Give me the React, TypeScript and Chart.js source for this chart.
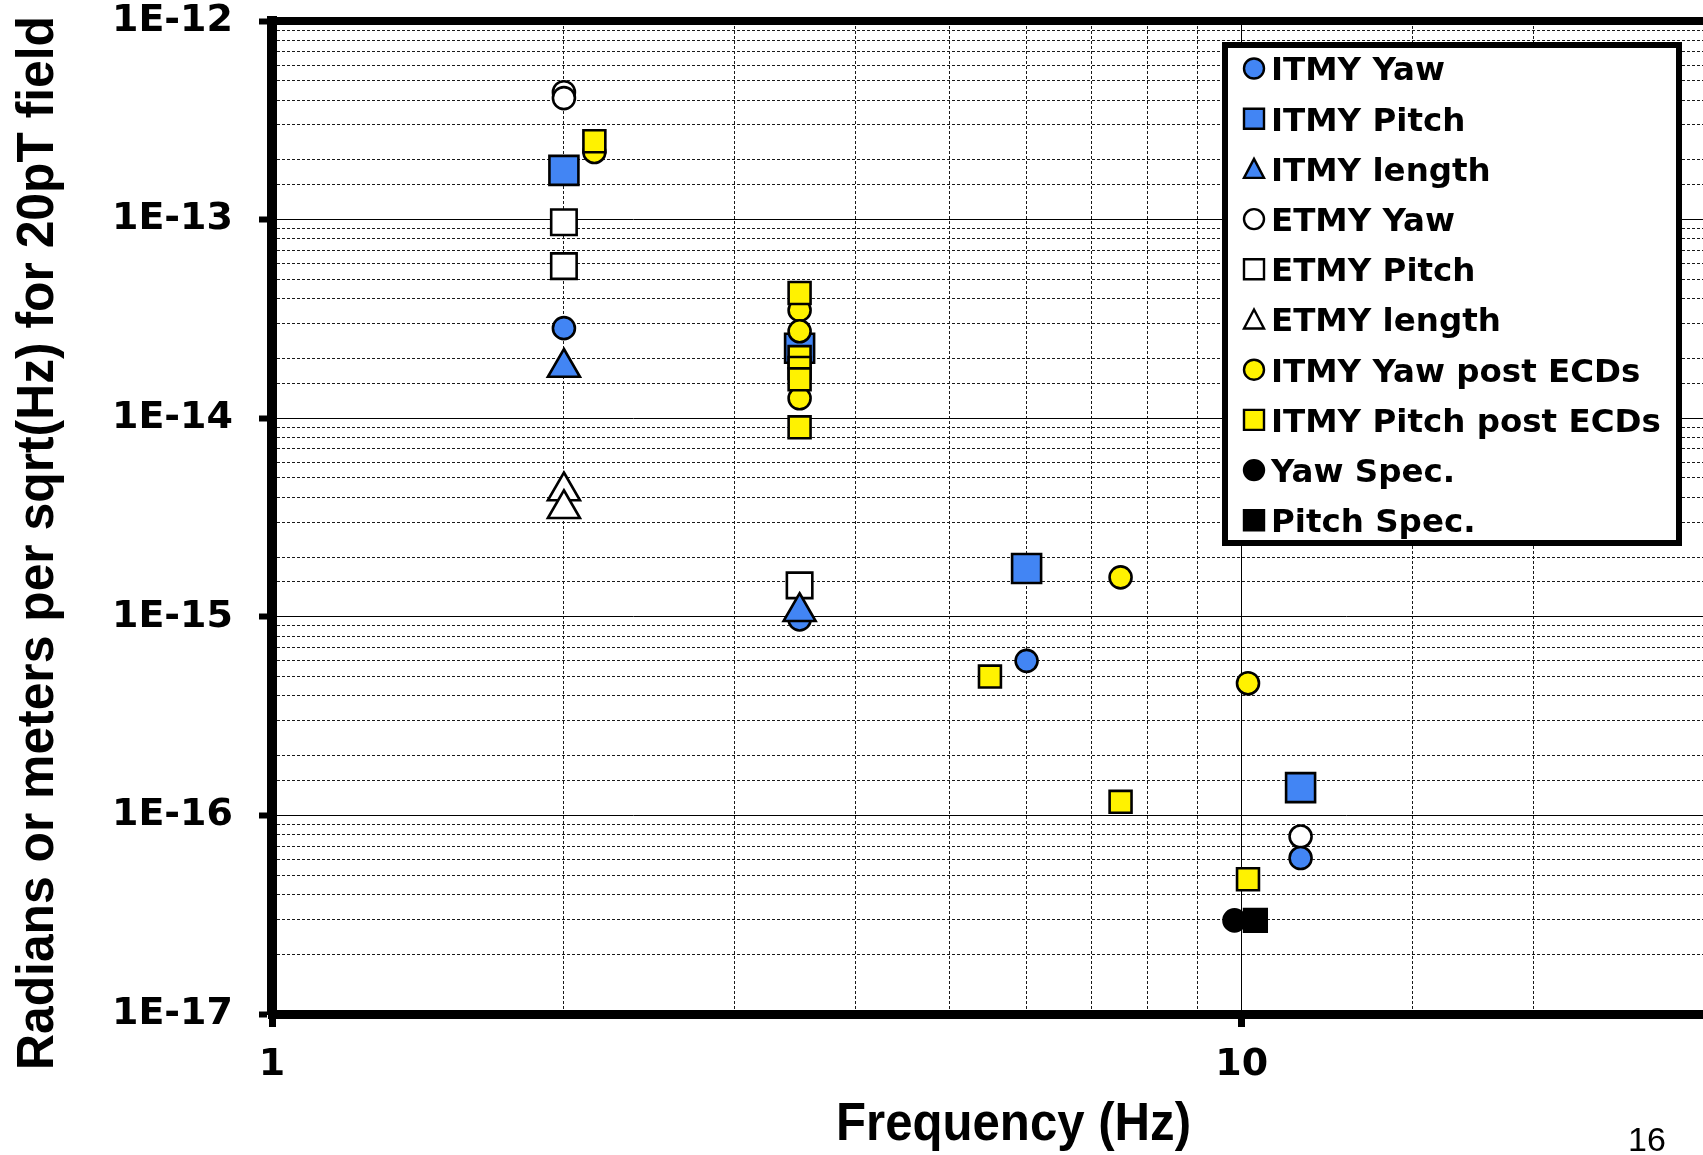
import React, { useEffect, useRef } from 'react';
import { Chart, registerables } from 'chart.js';

Chart.register(...registerables);

// ---------------- data ----------------
const seriesNames = [
  'ITMY Yaw',
  'ITMY Pitch',
  'ITMY length',
  'ETMY Yaw',
  'ETMY Pitch',
  'ETMY length',
  'ITMY Yaw post ECDs',
  'ITMY Pitch post ECDs',
  'Yaw Spec.',
  'Pitch Spec.',
];

const itmyYawFreq = [2, 3.5, 6.0, 11.5];
const itmyYawVal = [2.84e-14, 9.7e-16, 6.0e-16, 6.1e-17];

const itmyPitchFreq = [2, 3.5, 6.0, 11.5];
const itmyPitchVal = [1.77e-13, 2.25e-14, 1.75e-15, 1.38e-16];

const itmyLengthFreq = [2, 3.5];
const itmyLengthVal = [1.8e-14, 1.06e-15];

const etmyYawFreq = [2, 2, 11.5];
const etmyYawVal = [4.38e-13, 4.09e-13, 7.83e-17];

const etmyPitchFreq = [2, 2, 3.5];
const etmyPitchVal = [9.7e-14, 5.83e-14, 1.44e-15];

const etmyLengthFreq = [2, 2];
const etmyLengthVal = [4.3e-15, 3.5e-15];

const itmyYawPostFreq = [2.15, 3.5, 3.5, 3.5, 7.5, 10.15];
const itmyYawPostVal = [2.19e-13, 3.5e-14, 2.74e-14, 1.26e-14, 1.58e-15, 4.63e-16];

const itmyPitchPostFreq = [2.15, 3.5, 3.5, 3.5, 3.5, 3.5, 5.5, 7.5, 10.15];
const itmyPitchPostVal = [2.48e-13, 4.27e-14, 2.03e-14, 1.79e-14, 1.57e-14, 9.0e-15, 5.0e-16, 1.17e-16, 4.77e-17];

const yawSpecFreq = [9.83];
const yawSpecVal = [2.96e-17];

const pitchSpecFreq = [10.33];
const pitchSpecVal = [2.96e-17];

const xMajorTicks = [1, 10];
const xTickLabels = ['1', '10'];
const yMajorTicks = [1e-17, 1e-16, 1e-15, 1e-14, 1e-13, 1e-12];
const yTickLabels = ['1E-17', '1E-16', '1E-15', '1E-14', '1E-13', '1E-12'];

const xAxisTitle = 'Frequency (Hz)';
const yAxisTitle = 'Radians or meters per sqrt(Hz) for 20pT field';
const pageNumber = '16';

// ---------------- styles ----------------
const BLUE = '#4285F4';
const YELLOW = '#FFF200';
const WHITE = '#FFFFFF';
const BLACK = '#000000';

const seriesFreqs = [
  itmyYawFreq, itmyPitchFreq, itmyLengthFreq, etmyYawFreq, etmyPitchFreq,
  etmyLengthFreq, itmyYawPostFreq, itmyPitchPostFreq, yawSpecFreq, pitchSpecFreq,
];
const seriesVals = [
  itmyYawVal, itmyPitchVal, itmyLengthVal, etmyYawVal, etmyPitchVal,
  etmyLengthVal, itmyYawPostVal, itmyPitchPostVal, yawSpecVal, pitchSpecVal,
];
const seriesStyle = [
  { shape: 'circle', fill: BLUE, radius: 11, order: 4 },
  { shape: 'rect', fill: BLUE, radius: 20.5, order: 4 },
  { shape: 'triangle', fill: BLUE, radius: 18.5, order: 3 },
  { shape: 'circle', fill: WHITE, radius: 11, order: 6 },
  { shape: 'rect', fill: WHITE, radius: 18, order: 6 },
  { shape: 'triangle', fill: WHITE, radius: 18.5, order: 6 },
  { shape: 'circle', fill: YELLOW, radius: 11, order: 2 },
  { shape: 'rect', fill: YELLOW, radius: 15.5, order: 1 },
  { shape: 'circle', fill: BLACK, radius: 11, order: 0 },
  { shape: 'rect', fill: BLACK, radius: 16, order: 0 },
];

const matchTick = (v: number, list: number[]) =>
  list.findIndex((t) => Math.abs(Math.log10(v) - Math.log10(t)) < 1e-6);

const isDecade = (v: number) => {
  const l = Math.log10(v);
  return Math.abs(l - Math.round(l)) < 1e-6;
};

function drawMarker(ctx: CanvasRenderingContext2D, shape: string, x: number, y: number, size: number, fill: string) {
  ctx.beginPath();
  if (shape === 'circle') {
    ctx.arc(x, y, size / 2, 0, Math.PI * 2);
  } else if (shape === 'rect') {
    ctx.rect(x - size / 2, y - size / 2, size, size);
  } else {
    ctx.moveTo(x, y - size / 2);
    ctx.lineTo(x + size / 2, y + size / 2 - 1);
    ctx.lineTo(x - size / 2, y + size / 2 - 1);
    ctx.closePath();
  }
  ctx.fillStyle = fill;
  ctx.fill();
  ctx.lineWidth = 2.4;
  ctx.strokeStyle = BLACK;
  ctx.stroke();
}

const overlayPlugin = {
  id: 'overlay',
  beforeDatasetsDraw(chart: any) {
    const { ctx, chartArea } = chart;
    ctx.save();
    ctx.fillStyle = BLACK;
    ctx.fillRect(chartArea.left - 5, chartArea.top - 4, chartArea.right - chartArea.left + 5, 8);
    ctx.restore();
  },
  afterDraw(chart: any) {
    const { ctx } = chart;
    ctx.save();
    // legend box
    ctx.fillStyle = WHITE;
    ctx.fillRect(1225, 45, 454, 498);
    ctx.lineWidth = 6;
    ctx.strokeStyle = BLACK;
    ctx.strokeRect(1225, 45, 454, 498);
    ctx.font = 'bold 32.5px "DejaVu Sans"';
    ctx.textAlign = 'left';
    ctx.textBaseline = 'alphabetic';
    seriesNames.forEach((name, i) => {
      const y = 68.5 + i * 50.2;
      drawMarker(ctx, seriesStyle[i].shape, 1254, y, 20, seriesStyle[i].fill);
      ctx.fillStyle = BLACK;
      ctx.fillText(name, 1271, y + 11.8);
    });

    // y axis title
    ctx.save();
    ctx.font = 'bold 52px "Liberation Sans"';
    const wy = ctx.measureText(yAxisTitle).width;
    ctx.translate(53, 543);
    ctx.rotate(-Math.PI / 2);
    ctx.scale(1054 / wy, 1);
    ctx.textAlign = 'center';
    ctx.fillStyle = BLACK;
    ctx.fillText(yAxisTitle, 0, 0);
    ctx.restore();

    // x axis title
    ctx.save();
    ctx.font = 'bold 53px "Liberation Sans"';
    const wx = ctx.measureText(xAxisTitle).width;
    ctx.translate(1013.5, 1140);
    ctx.scale(355 / wx, 1);
    ctx.textAlign = 'center';
    ctx.fillStyle = BLACK;
    ctx.fillText(xAxisTitle, 0, 0);
    ctx.restore();

    // page number
    ctx.font = '34px "Liberation Sans"';
    ctx.textAlign = 'left';
    ctx.fillStyle = BLACK;
    ctx.fillText(pageNumber, 1628, 1151);
    ctx.restore();
  },
};

const gridColor = (c: any) => (c.tick && isDecade(c.tick.value) ? '#000000' : '#1a1a1a');
const gridWidth = (c: any) => 1;
const gridDash = (c: any) => (c.tick && !isDecade(c.tick.value) ? [3, 2] : []);
const tickColor = (c: any) => (c.tick && isDecade(c.tick.value) ? '#000000' : 'rgba(0,0,0,0)');

const zeroPadding = (s: any) => {
  s.paddingTop = 0;
  s.paddingBottom = 0;
  s.paddingLeft = 0;
  s.paddingRight = 0;
};

export default function App() {
  const ref = useRef<HTMLCanvasElement>(null);

  useEffect(() => {
    const datasets = seriesNames.map((name, i) => ({
      label: name,
      data: seriesFreqs[i].map((f, j) => ({ x: f, y: seriesVals[i][j] })),
      pointStyle: seriesStyle[i].shape,
      pointRadius: seriesStyle[i].radius,
      pointHoverRadius: seriesStyle[i].radius,
      pointBackgroundColor: seriesStyle[i].fill,
      pointBorderColor: BLACK,
      pointBorderWidth: 2.6,
      showLine: false,
      order: seriesStyle[i].order,
      clip: false as any,
    }));

    const chart = new Chart(ref.current as HTMLCanvasElement, {
      type: 'scatter',
      data: { datasets },
      options: {
        animation: false,
        responsive: false,
        layout: { autoPadding: false, padding: { top: 21, left: 0, right: 0, bottom: 0 } },
        plugins: { legend: { display: false }, tooltip: { enabled: false } },
        scales: {
          x: {
            type: 'logarithmic',
            position: 'bottom',
            min: 1,
            max: 29.9,
            afterFit: (s: any) => {
              s.height = 141;
              zeroPadding(s);
            },
            border: { display: true, color: BLACK, width: 9, dash: gridDash as any },
            grid: {
              color: gridColor,
              lineWidth: gridWidth,
              drawTicks: true,
              tickLength: 13,
              tickWidth: 7,
              tickColor: tickColor,
            },
            ticks: {
              autoSkip: false,
              maxRotation: 0,
              minRotation: 0,
              padding: 15,
              color: BLACK,
              font: { family: '"DejaVu Sans"', size: 38, weight: 'bold' },
              callback: (v: any) => {
                const k = matchTick(Number(v), xMajorTicks);
                return k >= 0 ? xTickLabels[k] : '';
              },
            },
          },
          y: {
            type: 'logarithmic',
            position: 'left',
            min: 1e-17,
            max: 1e-12,
            afterFit: (s: any) => {
              s.width = 272;
              zeroPadding(s);
            },
            border: { display: true, color: BLACK, width: 10, dash: gridDash as any },
            grid: {
              color: gridColor,
              lineWidth: gridWidth,
              drawTicks: true,
              tickLength: 13,
              tickWidth: 6,
              tickColor: tickColor,
            },
            ticks: {
              autoSkip: false,
              padding: 26,
              color: BLACK,
              font: { family: '"DejaVu Sans"', size: 38, weight: 'bold', lineHeight: 1.0 },
              callback: (v: any) => {
                const k = matchTick(Number(v), yMajorTicks);
                return k >= 0 ? yTickLabels[k] : '';
              },
            },
          },
        },
      } as any,
      plugins: [overlayPlugin],
    });
    return () => chart.destroy();
  }, []);

  return (
    <div style={{ position: 'fixed', left: 0, top: 0, width: 1703, height: 1155, background: '#fff' }}>
      <canvas ref={ref} width={1703} height={1155} style={{ width: 1703, height: 1155, display: 'block' }} />
    </div>
  );
}
